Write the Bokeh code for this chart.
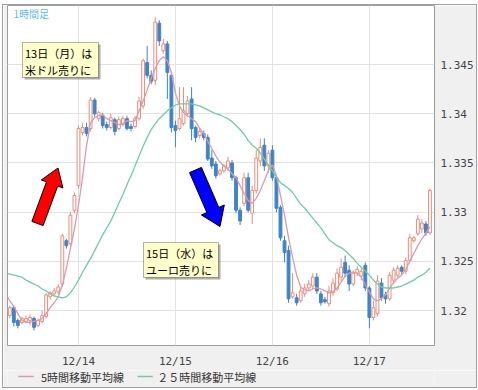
from bokeh.plotting import figure
from bokeh.layouts import column
from bokeh.models import ColumnDataSource, BoxAnnotation, Label, Range1d
from bokeh.core.properties import value
from bokeh.embed import file_html
from bokeh.resources import INLINE

# ---------------- data (hourly candles, 12/13 07:00 .. 12/17 15:00) ----------------
opens = [1.3195, 1.3203, 1.3190, 1.3188, 1.3189, 1.3190, 1.3192, 1.3185, 1.3189, 1.3194,
         1.3214, 1.3217, 1.3219, 1.3227, 1.3271, 1.3268, 1.3302, 1.3327, 1.3381, 1.3386,
         1.3385, 1.3414, 1.3395, 1.3398, 1.3389, 1.3386, 1.3394, 1.3385, 1.3389, 1.3395,
         1.3387, 1.3387, 1.3395, 1.3408, 1.3452, 1.3439, 1.3434, 1.3492, 1.3464, 1.3471,
         1.3439, 1.3388, 1.3385, 1.3390, 1.3400, 1.3415, 1.3386, 1.3378, 1.3380, 1.3376,
         1.3355, 1.3349, 1.3339, 1.3342, 1.3345, 1.3350, 1.3335, 1.3302, 1.3309, 1.3335,
         1.3299, 1.3322, 1.3352, 1.3368, 1.3347, 1.3363, 1.3335, 1.3305, 1.3271, 1.3261,
         1.3214, 1.3213, 1.3210, 1.3217, 1.3223, 1.3225, 1.3234, 1.3217, 1.3211, 1.3207,
         1.3218, 1.3222, 1.3234, 1.3249, 1.3241, 1.3227, 1.3238, 1.3235, 1.3246, 1.3223,
         1.3193, 1.3197, 1.3228, 1.3216, 1.3212, 1.3231, 1.3236, 1.3244, 1.3240, 1.3251,
         1.3271, 1.3278, 1.3283, 1.3288, 1.3279]
highs = [1.3205, 1.3205, 1.3192, 1.3194, 1.3195, 1.3196, 1.3194, 1.3192, 1.3200, 1.3218,
         1.3220, 1.3223, 1.3227, 1.3278, 1.3273, 1.3300, 1.3320, 1.3388, 1.3391, 1.3391,
         1.3417, 1.3416, 1.3403, 1.3401, 1.3392, 1.3400, 1.3396, 1.3397, 1.3398, 1.3398,
         1.3390, 1.3398, 1.3417, 1.3456, 1.3469, 1.3444, 1.3498, 1.3495, 1.3476, 1.3474,
         1.3442, 1.3393, 1.3427, 1.3427, 1.3418, 1.3427, 1.3388, 1.3385, 1.3383, 1.3379,
         1.3363, 1.3352, 1.3344, 1.3349, 1.3356, 1.3353, 1.3337, 1.3305, 1.3340, 1.3340,
         1.3327, 1.3363, 1.3375, 1.3375, 1.3363, 1.3368, 1.3337, 1.3307, 1.3276, 1.3266,
         1.3238, 1.3217, 1.3225, 1.3227, 1.3231, 1.3238, 1.3238, 1.3220, 1.3214, 1.3225,
         1.3233, 1.3243, 1.3253, 1.3256, 1.3246, 1.3241, 1.3245, 1.3243, 1.3249, 1.3225,
         1.3210, 1.3236, 1.3233, 1.3219, 1.3239, 1.3244, 1.3246, 1.3246, 1.3254, 1.3278,
         1.3276, 1.3297, 1.3293, 1.3291, 1.3324]
lows = [1.3192, 1.3184, 1.3182, 1.3186, 1.3187, 1.3185, 1.3180, 1.3183, 1.3187, 1.3192,
        1.3211, 1.3214, 1.3216, 1.3224, 1.3263, 1.3265, 1.3299, 1.3324, 1.3378, 1.3377,
        1.3382, 1.3397, 1.3392, 1.3385, 1.3383, 1.3384, 1.3378, 1.3383, 1.3387, 1.3383,
        1.3382, 1.3385, 1.3393, 1.3405, 1.3436, 1.3430, 1.3429, 1.3469, 1.3461, 1.3415,
        1.3381, 1.3366, 1.3383, 1.3388, 1.3397, 1.3373, 1.3371, 1.3375, 1.3373, 1.3352,
        1.3344, 1.3334, 1.3337, 1.3340, 1.3342, 1.3332, 1.3299, 1.3287, 1.3306, 1.3300,
        1.3288, 1.3319, 1.3347, 1.3342, 1.3340, 1.3332, 1.3300, 1.3271, 1.3249, 1.3208,
        1.3212, 1.3205, 1.3208, 1.3214, 1.3220, 1.3222, 1.3217, 1.3205, 1.3207, 1.3204,
        1.3215, 1.3220, 1.3230, 1.3234, 1.3220, 1.3225, 1.3235, 1.3231, 1.3220, 1.3182,
        1.3190, 1.3194, 1.3210, 1.3207, 1.3210, 1.3228, 1.3234, 1.3237, 1.3237, 1.3249,
        1.3269, 1.3276, 1.3279, 1.3276, 1.3277]
closes = [1.3203, 1.3188, 1.3185, 1.3192, 1.3192, 1.3193, 1.3183, 1.3190, 1.3195, 1.3216,
          1.3218, 1.3220, 1.3224, 1.3276, 1.3266, 1.3297, 1.3317, 1.3385, 1.3386, 1.3380,
          1.3414, 1.3400, 1.3401, 1.3388, 1.3386, 1.3396, 1.3382, 1.3394, 1.3395, 1.3385,
          1.3385, 1.3395, 1.3413, 1.3454, 1.3439, 1.3433, 1.3493, 1.3474, 1.3471, 1.3442,
          1.3386, 1.3383, 1.3395, 1.3403, 1.3413, 1.3385, 1.3376, 1.3382, 1.3376, 1.3354,
          1.3347, 1.3337, 1.3342, 1.3347, 1.3352, 1.3335, 1.3302, 1.3291, 1.3335, 1.3302,
          1.3322, 1.3355, 1.3366, 1.3347, 1.3360, 1.3335, 1.3304, 1.3274, 1.3259, 1.3212,
          1.3218, 1.3208, 1.3220, 1.3223, 1.3227, 1.3234, 1.3220, 1.3208, 1.3209, 1.3220,
          1.3228, 1.3238, 1.3244, 1.3238, 1.3227, 1.3238, 1.3242, 1.3240, 1.3223, 1.3193,
          1.3203, 1.3230, 1.3213, 1.3212, 1.3236, 1.3241, 1.3243, 1.3240, 1.3251, 1.3274,
          1.3274, 1.3293, 1.3289, 1.3279, 1.3322]
hour_index = list(range(len(closes)))

# moving averages (start one hour before the first visible candle)
ma_index = list(range(-1, len(closes)))
ma5 = [1.3217, 1.3210, 1.3204, 1.3197, 1.3190, 1.3188, 1.3188, 1.3189, 1.3190, 1.3192,
       1.3197, 1.3203, 1.3208, 1.3214, 1.3226, 1.3243, 1.3263, 1.3283, 1.3307, 1.3335,
       1.3368, 1.3391, 1.3396, 1.3398, 1.3399, 1.3395, 1.3393, 1.3391, 1.3389, 1.3390,
       1.3393, 1.3392, 1.3393, 1.3403, 1.3413, 1.3424, 1.3436, 1.3446, 1.3454, 1.3458,
       1.3454, 1.3442, 1.3421, 1.3408, 1.3401, 1.3398, 1.3395, 1.3392, 1.3385, 1.3380,
       1.3372, 1.3365, 1.3357, 1.3351, 1.3347, 1.3344, 1.3339, 1.3335, 1.3327, 1.3319,
       1.3312, 1.3309, 1.3314, 1.3322, 1.3332, 1.3342, 1.3348, 1.3337, 1.3317, 1.3297,
       1.3274, 1.3254, 1.3236, 1.3224, 1.3221, 1.3220, 1.3222, 1.3223, 1.3222, 1.3220,
       1.3218, 1.3219, 1.3223, 1.3229, 1.3235, 1.3238, 1.3239, 1.3238, 1.3234, 1.3226,
       1.3219, 1.3212, 1.3210, 1.3212, 1.3216, 1.3223, 1.3228, 1.3233, 1.3236, 1.3242,
       1.3250, 1.3258, 1.3266, 1.3273, 1.3279, 1.3285]
ma25 = [1.3238, 1.3237, 1.3236, 1.3235, 1.3234, 1.3231, 1.3229, 1.3227, 1.3225, 1.3222,
        1.3220, 1.3217, 1.3215, 1.3214, 1.3213, 1.3214, 1.3218, 1.3224, 1.3231, 1.3239,
        1.3246, 1.3253, 1.3261, 1.3269, 1.3277, 1.3284, 1.3291, 1.3300, 1.3309, 1.3318,
        1.3328, 1.3337, 1.3347, 1.3357, 1.3367, 1.3376, 1.3384, 1.3390, 1.3395, 1.3399,
        1.3403, 1.3406, 1.3409, 1.3410, 1.3410, 1.3410, 1.3410, 1.3409, 1.3408, 1.3406,
        1.3404, 1.3402, 1.3400, 1.3399, 1.3397, 1.3395, 1.3392, 1.3388, 1.3384, 1.3379,
        1.3373, 1.3368, 1.3365, 1.3360, 1.3354, 1.3348, 1.3342, 1.3336, 1.3330, 1.3327,
        1.3324, 1.3320, 1.3314, 1.3308, 1.3304, 1.3299, 1.3294, 1.3289, 1.3284, 1.3278,
        1.3272, 1.3269, 1.3266, 1.3264, 1.3261, 1.3257, 1.3253, 1.3248, 1.3244, 1.3240,
        1.3236, 1.3231, 1.3227, 1.3224, 1.3223, 1.3223, 1.3223, 1.3224, 1.3225, 1.3227,
        1.3229, 1.3231, 1.3234, 1.3236, 1.3239, 1.3243]

x_tick_pos = [17, 41, 65, 89]
x_tick_labels = ["12/14", "12/15", "12/16", "12/17"]
y_ticks = [1.32, 1.325, 1.33, 1.335, 1.34, 1.345]
y_tick_labels = ["1.32", "1.325", "1.33", "1.335", "1.34", "1.345"]

legend_labels = ["5時間移動平均線", "２５時間移動平均線"]
note1 = ["13日（月）は", "米ドル売りに"]
note2 = ["15日（水）は", "ユーロ売りに"]
chart_title = "1時間足"

# ---------------- styling ----------------
UP = "#ec8c78"
DOWN = "#3f84c6"
PINK = "#d99aae"
GREEN = "#6dcf9f"
PANEL = "#f0f0f0"
JP = "Noto Sans CJK JP"
MONO = "DejaVu Sans Mono"

# page geometry: outer border at x=2/476, y=4/387; inner area starts at (3, 5)
IN_L, IN_T, IN_W = 3, 5, 473
MAIN_H, LEG_H = 365, 17
FL, FT, FW, FH = 7, 5, 427, 340          # plot frame position on the page (px)
X0, X1 = -0.57, -0.57 + FW / 4.04
Y1 = 1.3510
Y0 = Y1 - FH * 0.0001016


def dx(px):
    return X0 + (px - FL) * (X1 - X0) / FW


def dy(py):
    return Y1 - (py - FT) * (Y1 - Y0) / FH


is_up = [c >= o for o, c in zip(opens, closes)]
src = ColumnDataSource(dict(
    x=hour_index,
    top=[max(o, c) for o, c in zip(opens, closes)],
    bottom=[min(o, c) for o, c in zip(opens, closes)],
    high=highs, low=lows,
    color=[UP if u else DOWN for u in is_up],
    fill=["#ffffff" if u else DOWN for u in is_up],
))

p = figure(width=IN_W, height=MAIN_H, x_range=Range1d(X0, X1), y_range=Range1d(Y0, Y1),
           y_axis_location="right", output_backend="svg", toolbar_location=None,
           min_border_left=FL - IN_L, min_border_right=IN_L + IN_W - (FL + FW),
           min_border_top=FT - IN_T, min_border_bottom=MAIN_H - FH - (FT - IN_T))
p.background_fill_color = "#ffffff"
p.border_fill_color = PANEL
p.outline_line_color = "#9c9c9c"

for ax in (p.xaxis[0], p.yaxis[0]):
    ax.major_tick_line_color = None
    ax.minor_tick_line_color = None
    ax.axis_line_color = None
    ax.major_label_text_font = MONO
    ax.major_label_text_font_size = "11px"
    ax.major_label_text_color = "#444444"

p.xaxis.ticker = x_tick_pos
p.xaxis.major_label_overrides = dict(zip(x_tick_pos, x_tick_labels))
p.xaxis.major_label_standoff = 3
p.yaxis.ticker = y_ticks
p.yaxis.major_label_overrides = dict(zip(y_ticks, y_tick_labels))
p.yaxis.major_label_standoff = 0

p.xgrid.grid_line_color = "#e2e2e2"
p.ygrid.grid_line_color = "#e2e2e2"

# candles
p.segment(x0="x", y0="high", x1="x", y1="low", color="color", line_width=1, source=src)
p.vbar(x="x", top="top", bottom="bottom", width=0.7, fill_color="fill",
       line_color="color", line_width=1, source=src)

# moving averages
p.line(ma_index, ma5, color=PINK, line_width=1.3)
p.line(ma_index, ma25, color=GREEN, line_width=1.3)


def arrow(tail, tip, sw, hw, hl):
    (tx, ty), (px_, py_) = tail, tip
    L = ((px_ - tx) ** 2 + (py_ - ty) ** 2) ** 0.5
    ux, uy = (px_ - tx) / L, (py_ - ty) / L
    nx, ny = -uy, ux
    bx, by = px_ - ux * hl, py_ - uy * hl
    pts = [(tx + nx * sw / 2, ty + ny * sw / 2), (bx + nx * sw / 2, by + ny * sw / 2),
           (bx + nx * hw / 2, by + ny * hw / 2), (px_, py_),
           (bx - nx * hw / 2, by - ny * hw / 2), (bx - nx * sw / 2, by - ny * sw / 2),
           (tx - nx * sw / 2, ty - ny * sw / 2)]
    return [dx(a) for a, b in pts], [dy(b) for a, b in pts]


ax_, ay_ = arrow((37, 223), (57.5, 167.5), 12, 23, 17)
p.patch(ax_, ay_, fill_color="#ff0000", line_color="#000000", line_width=1)
bx_, by_ = arrow((195, 169.5), (219.5, 226), 13, 25, 18)
p.patch(bx_, by_, fill_color="#0000ff", line_color="#000000", line_width=1)


def box(left, top, right, bottom, **kw):
    p.add_layout(BoxAnnotation(left=dx(left), right=dx(right), top=dy(top), bottom=dy(bottom),
                               **kw))


def note(left, top, right, bottom, lines):
    box(left + 2, top + 2, right + 2, bottom + 2, fill_color="#777777", fill_alpha=0.6,
        line_color=None)
    box(left, top, right, bottom, fill_color="#ffffcc", fill_alpha=1.0,
        line_color="#000000", line_width=1)
    for i, t in enumerate(lines):
        p.add_layout(Label(x=dx(left + 2.5), y=dy(top + 10.5 + 17 * i), text=t,
                           text_font=JP, text_font_size="11px", text_color="#000000",
                           text_baseline="middle", text_align="left"))


note(22, 42, 98, 77, note1)
note(143, 242, 218, 277, note2)

p.add_layout(Label(x=dx(13), y=dy(12.5), text=chart_title, text_font=JP,
                   text_font_size="10px", text_color="#5bbcf0", text_baseline="middle"))

# ---------------- legend strip (page-pixel coordinates) ----------------
leg_top = IN_T + MAIN_H
leg = figure(width=IN_W, height=LEG_H, x_range=Range1d(IN_L, IN_L + IN_W),
             y_range=Range1d(leg_top + LEG_H, leg_top), output_backend="svg",
             toolbar_location=None, x_axis_location=None, y_axis_location=None,
             min_border_left=0, min_border_right=0, min_border_top=0, min_border_bottom=0)
leg.background_fill_color = PANEL
leg.border_fill_color = PANEL
leg.outline_line_color = None
leg.xgrid.visible = False
leg.ygrid.visible = False
leg_y = [376, 376]
leg.segment(x0=[15, 147], y0=leg_y, x1=[32, 164], y1=leg_y, line_color=[PINK, GREEN],
            line_width=1.6)
leg.text(x=[40, 169], y=leg_y, text=legend_labels, text_font=value(JP),
         text_font_size="11px", text_color="#333333", text_baseline="middle",
         text_align="left")

layout = column(p, leg, spacing=0, width=IN_W + 2, height=MAIN_H + LEG_H + 2,
                margin=(IN_T - 1, 0, 0, IN_L - 1),
                styles={"border": "1px solid #a0a0a0"})

open("out.html", "w").write(file_html(layout, INLINE))
